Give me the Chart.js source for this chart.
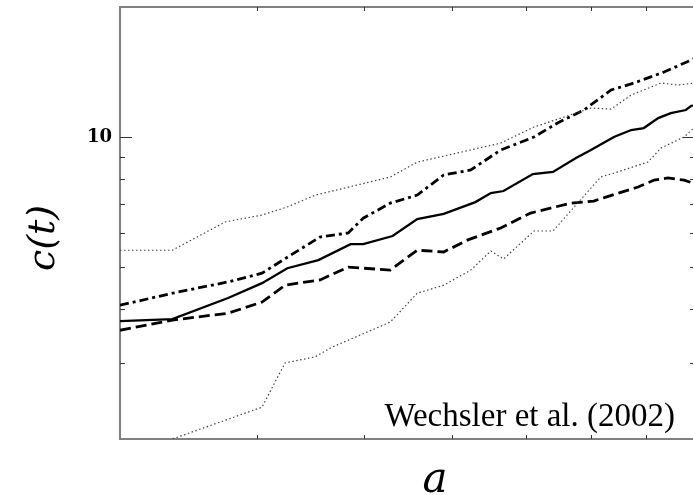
<!DOCTYPE html>
<html>
<head>
<meta charset="utf-8">
<script src="https://cdn.jsdelivr.net/npm/chart.js@4"></script>
<style>
  html, body { margin: 0; padding: 0; background: #fff; overflow: hidden; }
  #wrap { width: 700px; height: 495px; position: relative; }
</style>
</head>
<body>
<div id="wrap"><canvas id="cChart"></canvas></div>
<script>
// x axis: scale factor a (axis normalised 0..1), y axis: concentration c(t), log
var xTicks = [0.238, 0.424, 0.577, 0.706, 0.819, 0.915];
var yMajor = [10];
var yMinor = [3, 4, 5, 6, 7, 8, 9];

var solidA = [0, 0.091, 0.188, 0.247, 0.291, 0.345, 0.401, 0.423, 0.474, 0.517, 0.563, 0.618, 0.645, 0.667, 0.718, 0.753, 0.793, 0.819, 0.859, 0.889, 0.911, 0.936, 0.958, 0.984, 0.993, 1.0];
var solidC = [3.75, 3.79, 4.24, 4.59, 4.97, 5.19, 5.65, 5.65, 5.90, 6.46, 6.64, 7.07, 7.42, 7.50, 8.21, 8.30, 8.94, 9.33, 10.0, 10.38, 10.49, 11.06, 11.36, 11.55, 11.80, 11.86];

var dashedA = [0, 0.091, 0.188, 0.247, 0.287, 0.348, 0.397, 0.470, 0.517, 0.563, 0.605, 0.662, 0.714, 0.784, 0.824, 0.845, 0.901, 0.929, 0.953, 0.981, 1.0];
var dashedC = [3.57, 3.77, 3.91, 4.15, 4.54, 4.67, 5.00, 4.92, 5.47, 5.42, 5.78, 6.16, 6.67, 7.03, 7.11, 7.26, 7.66, 7.95, 8.04, 7.95, 7.79];

var dashDotA = [0, 0.091, 0.188, 0.247, 0.291, 0.348, 0.397, 0.423, 0.470, 0.517, 0.563, 0.610, 0.662, 0.720, 0.761, 0.807, 0.854, 0.894, 0.946, 0.993, 1.0];
var dashDotC = [4.08, 4.35, 4.62, 4.84, 5.27, 5.87, 6.00, 6.49, 7.03, 7.34, 8.17, 8.39, 9.33, 10.0, 10.78, 11.55, 12.85, 13.34, 14.14, 15.07, 15.24];

var upperDotA = [0, 0.091, 0.183, 0.247, 0.291, 0.340, 0.470, 0.517, 0.662, 0.720, 0.819, 0.854, 0.889, 0.941, 0.970, 1.0];
var upperDotC = [5.47, 5.47, 6.36, 6.60, 6.89, 7.34, 8.08, 8.75, 9.68, 10.55, 11.67, 11.61, 12.51, 13.34, 13.19, 13.34];

var lowerDotA = [0, 0.091, 0.247, 0.287, 0.340, 0.366, 0.470, 0.517, 0.563, 0.610, 0.645, 0.667, 0.720, 0.753, 0.836, 0.859, 0.918, 0.941, 0.981, 1.0];
var lowerDotC = [1.81, 2.00, 2.37, 3.00, 3.10, 3.25, 3.73, 4.35, 4.54, 4.92, 5.45, 5.22, 6.06, 6.06, 8.08, 8.25, 8.75, 9.43, 10.0, 10.55];

function pts(xs, ys) {
    return xs.map(function (x, i) { return { x: x, y: ys[i] }; });
}

function line(label, xs, ys, width, dash, color) {
    return {
        label: label,
        data: pts(xs, ys),
        borderColor: color || '#000',
        borderWidth: width,
        borderDash: dash,
        pointRadius: 0,
        tension: 0,
        fill: false
    };
}

// inward tick marks on all four sides, plus titles and the note
const frameTicks = {
    id: 'frameTicks',
    afterDraw: function (chart) {
        var ctx = chart.ctx, area = chart.chartArea;
        var xs = chart.scales.x, ys = chart.scales.y;
        ctx.save();
        ctx.strokeStyle = '#333';
        ctx.lineWidth = 1;
        ctx.beginPath();
        xTicks.forEach(function (v) {
            var px = Math.round(xs.getPixelForValue(v)) + 0.5;
            ctx.moveTo(px, area.top); ctx.lineTo(px, area.top + 4);
            ctx.moveTo(px, area.bottom); ctx.lineTo(px, area.bottom - 4);
        });
        yMinor.forEach(function (v) {
            var py = Math.round(ys.getPixelForValue(v)) + 0.5;
            ctx.moveTo(area.left, py); ctx.lineTo(area.left + 5, py);
            ctx.moveTo(area.right, py); ctx.lineTo(area.right - 5, py);
        });
        yMajor.forEach(function (v) {
            var py = Math.round(ys.getPixelForValue(v)) + 0.5;
            ctx.moveTo(area.left, py); ctx.lineTo(area.left + 12, py);
            ctx.moveTo(area.right, py); ctx.lineTo(area.right - 12, py);
        });
        ctx.stroke();

        ctx.fillStyle = '#000';
        ctx.font = '33px "Liberation Serif"';
        ctx.textAlign = 'right';
        ctx.textBaseline = 'alphabetic';
        ctx.fillText('Wechsler et al. (2002)', 675, 426);

        ctx.font = 'italic 42px "DejaVu Serif"';
        ctx.textAlign = 'center';
        ctx.fillText('a', 435, 492);

        ctx.translate(54, 238);
        ctx.rotate(-Math.PI / 2);
        ctx.font = 'italic 38px "DejaVu Serif"';
        ctx.fillText('c(t)', 0, 0);
        ctx.restore();
    }
};

const frameBorder = { display: true, color: '#808080', width: 2 };

const config = {
    type: 'line',
    data: {
        datasets: [
            line('upper', upperDotA, upperDotC, 1.2, [1.5, 2.5], '#444'),
            line('lower', lowerDotA, lowerDotC, 1.2, [1.5, 2.5], '#444'),
            line('dashed', dashedA, dashedC, 2.8, [11, 5]),
            line('dash-dot', dashDotA, dashDotC, 2.8, [9, 4, 3, 4]),
            line('median', solidA, solidC, 2.3, [])
        ]
    },
    options: {
        responsive: true,
        maintainAspectRatio: false,
        animation: false,
        events: [],
        layout: { padding: 0, autoPadding: false },
        plugins: {
            legend: { display: false },
            tooltip: { enabled: false }
        },
        scales: {
            x: {
                type: 'linear', position: 'bottom', min: 0, max: 1,
                ticks: { display: false },
                grid: { display: false, drawTicks: false },
                border: frameBorder,
                afterFit: function (s) { s.height = 56; s.paddingLeft = 0; s.paddingRight = 0; }
            },
            xTop: {
                type: 'linear', position: 'top', min: 0, max: 1,
                ticks: { display: false },
                grid: { display: false, drawTicks: false },
                border: frameBorder,
                afterFit: function (s) { s.height = 7; s.paddingLeft = 0; s.paddingRight = 0; }
            },
            y: {
                type: 'logarithmic', position: 'left', min: 2, max: 20,
                grid: { display: false, drawTicks: false },
                border: frameBorder,
                afterBuildTicks: function (s) {
                    s.ticks = yMajor.map(function (v) { return { value: v }; });
                },
                ticks: {
                    padding: 8,
                    color: '#000',
                    font: { family: 'DejaVu Serif', size: 18, weight: 'bold' },
                    callback: function (v) { return String(v); }
                },
                afterFit: function (s) { s.width = 120; s.paddingTop = 0; s.paddingBottom = 0; }
            },
            yRight: {
                type: 'logarithmic', position: 'right', min: 2, max: 20,
                ticks: { display: false },
                grid: { display: false, drawTicks: false },
                border: frameBorder,
                afterFit: function (s) { s.width = 5; s.paddingTop = 0; s.paddingBottom = 0; }
            }
        }
    },
    plugins: [frameTicks]
};

var myChart = new Chart(document.getElementById('cChart'), config);
</script>
</body>
</html>
